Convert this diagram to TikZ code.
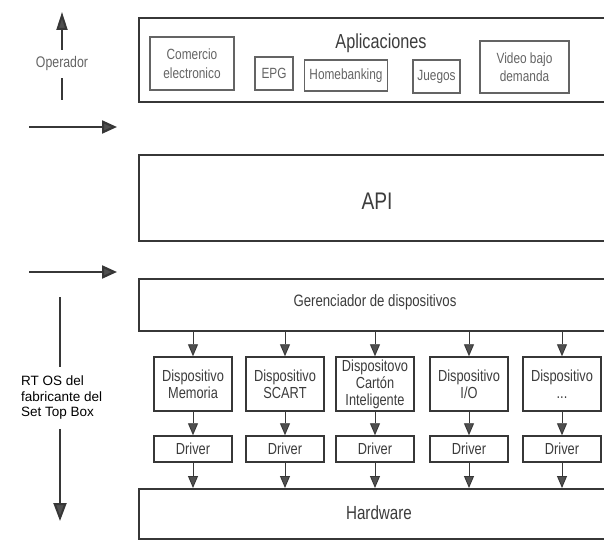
\documentclass[tikz,border=0pt]{standalone}
\usepackage{fontspec}
\setmainfont{Liberation Sans}
\newfontfamily\narrowsf[FakeStretch=0.8]{Liberation Sans}
\usetikzlibrary{arrows.meta}
\definecolor{boxgray}{RGB}{55,55,55}
\definecolor{inkgray}{RGB}{60,60,60}
\definecolor{softgray}{RGB}{100,100,100}
\definecolor{tipgray}{RGB}{80,80,80}

\begin{document}
\begin{tikzpicture}[x=1pt, y=-1pt,
    layer/.style={draw=boxgray, line width=2pt, anchor=north west, minimum width=500pt, inner sep=0pt},
    appbox/.style={draw=softgray, line width=1.4pt, align=center, inner sep=0pt, text=softgray,
      font=\narrowsf\fontsize{14.8}{18.5}\selectfont},
    unit/.style={draw=boxgray, line width=1.5pt, minimum width=78pt, align=center, inner sep=1pt,
      text=inkgray, font=\narrowsf\fontsize{16}{17}\selectfont},
    flow/.style={draw=boxgray, line width=0.9pt, -{Triangle[width=10pt,length=12pt,fill=tipgray]}},
    sidearrow/.style={draw=boxgray, line width=2.2pt, -{Triangle[width=13pt,length=15pt,fill=tipgray]}},
    vline/.style={draw=boxgray, line width=2pt}
  ]
    \clip (0,0) rectangle (604,540);

    % applications layer
    \node[layer, minimum height=84pt] (apps) at (138,17) {};
    \node[text=inkgray, font=\narrowsf\fontsize{20.3}{22}\selectfont] (appstitle) at (381,43) {Aplicaciones};
    \node[appbox, minimum width=84pt, minimum height=53pt] (comercio) at (192,63.5) {Comercio\\electronico};
    \node[appbox, minimum width=38pt, minimum height=33pt] (epg) at (274,73.5) {EPG};
    \node[appbox, minimum width=83pt, minimum height=31pt] (homebank) at (346,75.5) {Homebanking};
    \node[appbox, minimum width=47pt, minimum height=33pt] (juegos) at (436.5,76.5) {Juegos};
    \node[appbox, minimum width=89pt, minimum height=52pt] (vod) at (524.5,67) {Video bajo\\demanda};

    % API layer
    \node[layer, minimum height=86pt] (api) at (138,154) {};
    \node[text=inkgray, font=\narrowsf\fontsize{24}{26}\selectfont] (apitext) at (377,201) {API};

    % device manager layer
    \node[layer, minimum height=52pt] (ger) at (138,278) {};
    \node[text=inkgray, font=\narrowsf\fontsize{16.5}{18}\selectfont] (gertext) at (375,302) {Gerenciador de dispositivos};

    % hardware layer
    \node[layer, minimum height=50pt] (hw) at (138,488) {};
    \node[text=inkgray, font=\narrowsf\fontsize{19}{21}\selectfont] (hwtext) at (379,513) {Hardware};

    % devices and their drivers
    \foreach \x/\txt [count=\n] in {193/{Dispositivo\\Memoria}, 285/{Dispositivo\\SCART},
        375/{Dispositovo\\Cartón\\Inteligente}, 469/{Dispositivo\\I/O}, 562/{Dispositivo\\...}} {
      \node[unit, minimum height=54pt] (dev\n) at (\x,384) {\txt};
      \node[unit, minimum height=26pt] (drv\n) at (\x,449) {Driver};
      \draw[flow] (dev\n.north |- ger.south) -- (dev\n.north);
      \draw[flow] (dev\n.south) -- (drv\n.north);
      \draw[flow] (drv\n.south) -- (drv\n.south |- hw.north);
    }

    % operator side
    \node[text=softgray, inner ysep=7pt, font=\narrowsf\fontsize{15.4}{17}\selectfont] (op) at (62,64) {Operador};
    \coordinate (optop) at (62,12);
    \coordinate (opbot) at (62,100);
    \draw[vline, -{Triangle[width=11pt,length=18pt,fill=tipgray]}] (op.north) -- (optop);
    \draw[vline] (opbot) -- (op.south);

    \coordinate (in1a) at (29,127);
    \coordinate (in1b) at (117,127);
    \draw[sidearrow] (in1a) -- (in1b);
    \coordinate (in2a) at (29,272);
    \coordinate (in2b) at (117,272);
    \draw[sidearrow] (in2a) -- (in2b);

    % set top box maker side
    \node[anchor=west, align=left, inner xsep=0pt, inner ysep=9pt, font=\fontsize{13.5}{15.5}\selectfont] (rtos) at (21,398)
      {RT OS del\\fabricante del\\Set Top Box};
    \coordinate (rtop) at (60,297);
    \coordinate (rbot) at (60,521);
    \draw[vline] (rtop) -- (rtop |- rtos.north);
    \draw[vline, -{Triangle[width=13pt,length=18pt,fill=tipgray]}] (rtop |- rtos.south) -- (rbot);
\end{tikzpicture}
\end{document}
